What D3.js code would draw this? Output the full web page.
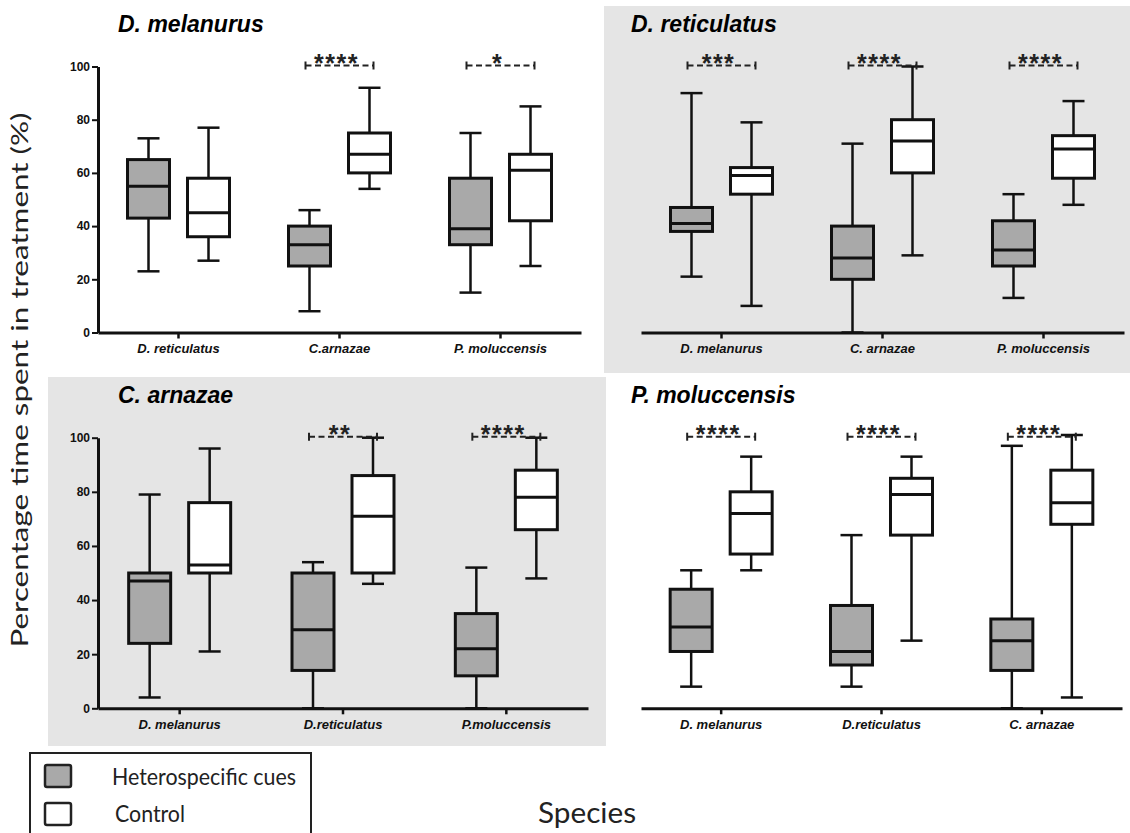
<!DOCTYPE html>
<html>
<head>
<meta charset="utf-8">
<script src="https://cdn.jsdelivr.net/npm/d3@7"></script>
<style>
body{margin:0;background:#fff;}
svg{display:block;}
</style>
</head>
<body>
<svg width="1130" height="833"></svg>
<script>
// panel titles (focal species) and compared species
var titles = ["D. melanurus", "D. reticulatus", "C. arnazae", "P. moluccensis"];
var categories = [
	["D. reticulatus", "C.arnazae", "P. moluccensis"],
	["D. melanurus", "C. arnazae", "P. moluccensis"],
	["D. melanurus", "D.reticulatus", "P.moluccensis"],
	["D. melanurus", "D.reticulatus", "C. arnazae"]
];
// [min, q1, median, q3, max] per category
var cues = [
	[[23,43,55,65,73], [8,25,33,40,46], [15,33,39,58,75]],
	[[21,38,41,47,90], [0,20,28,40,71], [13,25,31,42,52]],
	[[4,24,47,50,79], [0,14,29,50,54], [0,12,22,35,52]],
	[[8,21,30,44,51], [8,16,21,38,64], [0,14,25,33,97]]
];
var control = [
	[[27,36,45,58,77], [54,60,67,75,92], [25,42,61,67,85]],
	[[10,52,59,62,79], [29,60,72,80,100], [48,58,69,74,87]],
	[[21,50,53,76,96], [46,50,71,86,100], [48,66,78,88,100]],
	[[51,57,72,80,93], [25,64,79,85,93], [4,68,76,88,101]]
];
var stars = [
	["", "****", "*"],
	["***", "****", "****"],
	["", "**", "****"],
	["****", "****", "****"]
];
var yTicks = [0, 20, 40, 60, 80, 100];
var legendLabels = ["Heterospecific cues", "Control"];

var boxFill = ["#a9a9a9", "#ffffff"];
var bgGray = "#e5e5e5";

// layout of each panel: x range of axis, y pixel of 0 and 100, title spot
var panels = [
	{x0:98, x1:581, yb:332.5, yt:66.5, tx:118, ty:32, yaxis:true},
	{x0:641, x1:1124, yb:332.5, yt:66.5, tx:631, ty:32, yaxis:false},
	{x0:98, x1:588, yb:708.3, yt:437.7, tx:118, ty:403, yaxis:true},
	{x0:641, x1:1122, yb:708.3, yt:437.7, tx:631, ty:403, yaxis:false}
];

var svg = d3.select("svg");

// gray backgrounds
svg.append("rect").attr("x",604).attr("y",6).attr("width",526).attr("height",367).attr("fill",bgGray);
svg.append("rect").attr("x",48).attr("y",377).attr("width",558).attr("height",369).attr("fill",bgGray);

for(var p=0;p<4;p++){
	var P = panels[p];
	var g = svg.append("g");
	var x = d3.scaleBand().domain(categories[p]).range([P.x0, P.x1]).padding(0);
	var y = d3.scaleLinear().domain([0,100]).range([P.yb, P.yt]);

	g.append("text")
		.attr("x",P.tx).attr("y",P.ty)
		.attr("font-family","Liberation Sans, Arial, sans-serif")
		.attr("font-weight","bold").attr("font-style","italic")
		.attr("font-size",23)
		.text(titles[p]);

	var xa = g.append("g")
		.attr("transform","translate(0,"+P.yb+")")
		.call(d3.axisBottom(x).tickSize(6).tickSizeOuter(0).tickPadding(5));
	xa.select(".domain").attr("stroke","#111").attr("stroke-width",3);
	xa.selectAll(".tick line").attr("stroke","#111").attr("stroke-width",2.5);
	xa.selectAll(".tick text")
		.attr("fill","#111")
		.attr("font-family","Liberation Sans, Arial, sans-serif")
		.attr("font-weight","bold").attr("font-style","italic")
		.attr("font-size",13);

	if(P.yaxis){
		var ya = g.append("g")
			.attr("transform","translate("+P.x0+",0)")
			.call(d3.axisLeft(y).tickValues(yTicks).tickSize(6).tickSizeOuter(0).tickPadding(2));
		ya.select(".domain").attr("stroke","#111").attr("stroke-width",3);
		ya.selectAll(".tick line").attr("stroke","#111").attr("stroke-width",2);
		ya.selectAll(".tick text")
			.attr("fill","#111")
			.attr("font-family","Liberation Sans, Arial, sans-serif")
			.attr("font-weight","bold")
			.attr("font-size",12);
	}

	var half = x.bandwidth()/2;
	for(var i=0;i<categories[p].length;i++){
		var c = x(categories[p][i]) + half;
		var sets = [cues[p][i], control[p][i]];
		for(var s=0;s<2;s++){
			var d = sets[s];
			var cx = c + (s==0 ? -30 : 30);
			var bw = 42, cw = 22;
			// whiskers
			g.append("line").attr("x1",cx).attr("x2",cx).attr("y1",y(d[0])).attr("y2",y(d[1]))
				.attr("stroke","#111").attr("stroke-width",2.5);
			g.append("line").attr("x1",cx).attr("x2",cx).attr("y1",y(d[3])).attr("y2",y(d[4]))
				.attr("stroke","#111").attr("stroke-width",2.5);
			g.append("line").attr("x1",cx-cw/2).attr("x2",cx+cw/2).attr("y1",y(d[0])).attr("y2",y(d[0]))
				.attr("stroke","#111").attr("stroke-width",2.5);
			g.append("line").attr("x1",cx-cw/2).attr("x2",cx+cw/2).attr("y1",y(d[4])).attr("y2",y(d[4]))
				.attr("stroke","#111").attr("stroke-width",2.5);
			// box
			g.append("rect")
				.attr("x",cx-bw/2).attr("y",y(d[3]))
				.attr("width",bw).attr("height",y(d[1])-y(d[3]))
				.attr("fill",boxFill[s]).attr("stroke","#111").attr("stroke-width",3);
			g.append("line").attr("x1",cx-bw/2).attr("x2",cx+bw/2).attr("y1",y(d[2])).attr("y2",y(d[2]))
				.attr("stroke","#111").attr("stroke-width",3);
		}
		// significance bracket
		if(stars[p][i] != ""){
			var by = y(100) - 1;
			var bx0 = c - 34, bx1 = c + 34;
			g.append("line").attr("x1",bx0).attr("x2",bx1).attr("y1",by).attr("y2",by)
				.attr("stroke","#222").attr("stroke-width",2).attr("stroke-dasharray","6,3.5");
			g.append("line").attr("x1",bx0).attr("x2",bx0).attr("y1",by-4).attr("y2",by+4)
				.attr("stroke","#222").attr("stroke-width",2);
			g.append("line").attr("x1",bx1).attr("x2",bx1).attr("y1",by-4).attr("y2",by+4)
				.attr("stroke","#222").attr("stroke-width",2);
			g.append("text")
				.attr("x",c-3).attr("y",by+6)
				.attr("text-anchor","middle")
				.attr("font-family","Liberation Sans, Arial, sans-serif")
				.attr("font-weight","bold").attr("font-size",25)
				.attr("letter-spacing",1.5)
				.attr("fill","#222")
				.text(stars[p][i]);
		}
	}
}

// axis titles
svg.append("text")
	.attr("transform","translate(28,380) rotate(-90)")
	.attr("text-anchor","middle")
	.attr("font-family","Lato, Open Sans, sans-serif")
	.attr("font-size",23)
	.attr("textLength",535).attr("lengthAdjust","spacingAndGlyphs")
	.attr("fill","#222")
	.text("Percentage time spent in treatment (%)");
svg.append("text")
	.attr("x",538).attr("y",823)
	.attr("font-family","Lato, Open Sans, sans-serif")
	.attr("font-size",28)
	.attr("textLength",98).attr("lengthAdjust","spacingAndGlyphs")
	.attr("fill","#222")
	.text("Species");

// legend
svg.append("rect").attr("x",30).attr("y",753).attr("width",281).attr("height",100)
	.attr("fill","#fff").attr("stroke","#222").attr("stroke-width",2);
var legY = [765, 803];
var legTextY = [785, 822];
var legTextX = [112, 115];
var legLen = [184, 70];
for(var k=0;k<2;k++){
	svg.append("rect").attr("x",45).attr("y",legY[k]).attr("width",26).attr("height",22)
		.attr("rx",2).attr("fill",boxFill[k]).attr("stroke","#222").attr("stroke-width",2.5);
	svg.append("text").attr("x",legTextX[k]).attr("y",legTextY[k])
		.attr("font-family","Lato, Open Sans, sans-serif")
		.attr("font-size",23)
		.attr("textLength",legLen[k]).attr("lengthAdjust","spacingAndGlyphs")
		.attr("fill","#222")
		.text(legendLabels[k]);
}
</script>
</body>
</html>
